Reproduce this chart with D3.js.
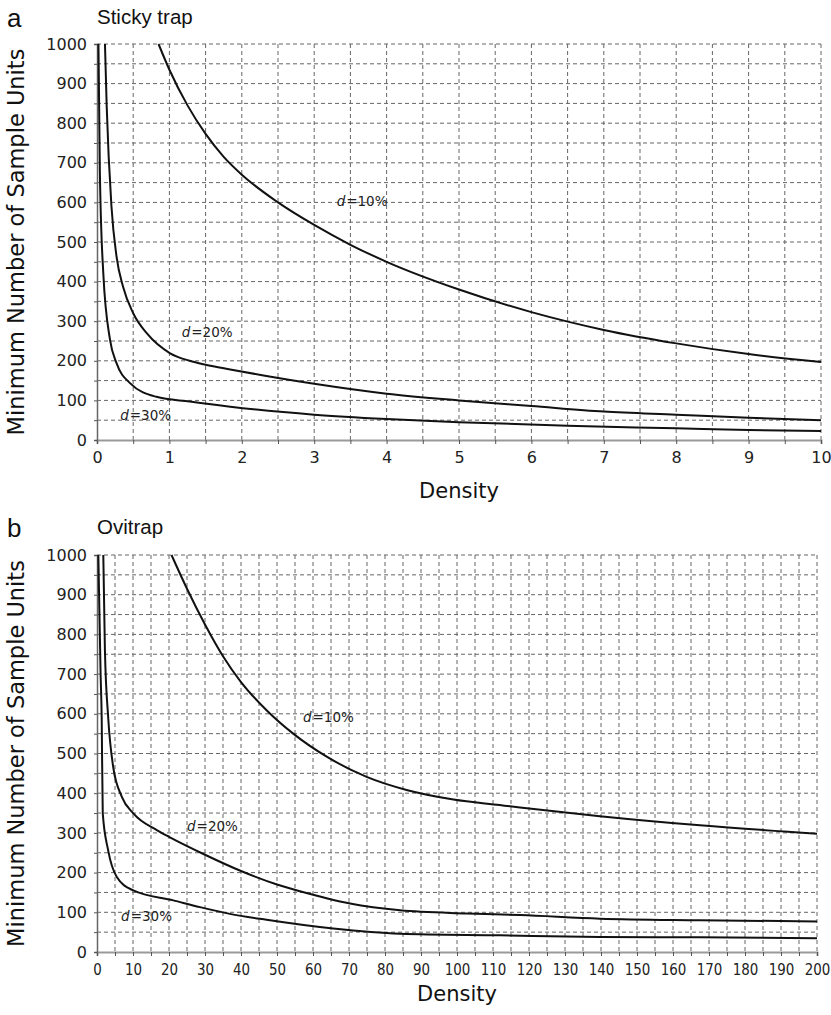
<!DOCTYPE html>
<html>
<head>
<meta charset="utf-8">
<script src="https://cdn.jsdelivr.net/npm/d3@7"></script>
<style>
  body { margin: 0; background: #fff; }
  svg { display: block; }
  .tick text { font-family: "DejaVu Sans", Verdana, sans-serif; fill: #222; }
</style>
</head>
<body>
<svg id="chart" width="831" height="1015"></svg>
<script>
// panel a : sticky trap
const stickyX10 = [0.85, 1.0, 1.25, 1.5, 1.75, 2, 2.5, 3, 3.5, 4, 5, 6, 7, 8, 9, 10];
const stickyY10 = [1000, 935, 845, 773, 715, 670, 600, 543, 493, 450, 380, 323, 278, 244, 217, 197];
const stickyX20 = [0.11, 0.134, 0.2, 0.27, 0.36, 0.5, 0.69, 1.01, 1.28, 1.5, 1.84, 2.3, 3, 4, 5, 6, 7, 8, 9, 10];
const stickyY20 = [1000, 842, 589, 463, 387, 320, 269, 219, 200, 190, 178, 163, 142, 117, 100, 86, 72, 64, 56, 50];
const stickyX30 = [0.02, 0.04, 0.087, 0.18, 0.27, 0.46, 0.82, 1.28, 1.84, 3, 4, 5, 6.5, 8, 9, 10];
const stickyY30 = [1000, 673, 421, 253, 194, 143, 109, 97, 84, 64, 53, 45, 36, 29.5, 25, 23];

// panel b : ovitrap
const oviX10 = [20.7, 25, 30, 35, 40, 47.1, 54.5, 63.8, 74.9, 86, 99, 111.9, 117.5, 139.7, 167.5, 200];
const oviY10 = [1000, 915, 825, 745, 680, 609, 550, 492, 441, 408, 384, 370, 364, 342, 319, 298];
const oviX20 = [1.75, 2.2, 3.1, 4.5, 6.9, 10.1, 16.6, 20, 30, 40, 50, 56.4, 70.3, 84.2, 102.7, 117.5, 139.7, 167.5, 200];
const oviY20 = [1000, 760, 592, 466, 391, 349, 307, 290, 245, 204, 170, 153, 122, 105, 97, 93, 84, 80, 77];
const oviX30 = [0.37, 1.0, 1.3, 1.6, 3.1, 5.5, 10.1, 21.2, 28.6, 36.9, 47.1, 65.6, 84.2, 111.9, 139.7, 167.5, 200];
const oviY30 = [1000, 700, 592, 349, 256, 189, 155, 130, 113, 96, 81, 59, 46, 42, 38, 37, 34.5];

const panelLetters = ["a", "b"];
const panelTitles = ["Sticky trap", "Ovitrap"];
const curveLabels = ["10%", "20%", "30%"];
const yTicks = d3.range(0, 1001, 50);
const xTicksA = d3.range(0, 10.001, 0.5);
const xTicksB = d3.range(0, 201, 5);

const svg = d3.select("#chart");
svg.append("rect").attr("width", 831).attr("height", 1015).attr("fill", "#fff");

function pairs(xs, ys) {
  return xs.map((x, i) => [x, ys[i]]);
}

const panels = [
  {
    id: "a", left: 97, right: 821, top: 44, bottom: 440, xmax: 10,
    xTicks: xTicksA, labelEvery: 1, squeeze: 1,
    series: [pairs(stickyX10, stickyY10), pairs(stickyX20, stickyY20), pairs(stickyX30, stickyY30)],
    labelPos: [[3.31, 591], [1.17, 260], [0.32, 50]],
    letterY: 27, densityY: 498
  },
  {
    id: "b", left: 97, right: 817, top: 555, bottom: 952, xmax: 200,
    xTicks: xTicksB, labelEvery: 10, squeeze: 0.84,
    series: [pairs(oviX10, oviY10), pairs(oviX20, oviY20), pairs(oviX30, oviY30)],
    labelPos: [[57.2, 579], [25, 304], [6.7, 77]],
    letterY: 537, densityY: 1001
  }
];

panels.forEach((p, pi) => {
  const x = d3.scaleLinear().domain([0, p.xmax]).range([p.left, p.right]);
  const y = d3.scaleLinear().domain([0, 1000]).range([p.bottom, p.top]);
  const g = svg.append("g").attr("id", "panel_" + p.id);

  // grid
  g.append("g").selectAll("line").data(yTicks.filter(d => d > 0)).join("line")
    .attr("x1", p.left).attr("x2", p.right)
    .attr("y1", d => y(d)).attr("y2", d => y(d))
    .attr("stroke", "#666").attr("stroke-width", 1).attr("stroke-dasharray", "4,3");
  g.append("g").selectAll("line").data(p.xTicks.filter(d => d > 0)).join("line")
    .attr("x1", d => x(d)).attr("x2", d => x(d))
    .attr("y1", p.top).attr("y2", p.bottom)
    .attr("stroke", "#666").attr("stroke-width", 1).attr("stroke-dasharray", "4,3");

  // axes
  const xAxis = g.append("g").attr("transform", `translate(0,${p.bottom})`)
    .call(d3.axisBottom(x).tickValues(p.xTicks).tickSize(4).tickPadding(8)
      .tickFormat(d => (Math.abs(d % p.labelEvery) < 1e-9 ? d3.format("d")(d) : "")));
  xAxis.select(".domain").attr("stroke", "#999").attr("stroke-width", 2);
  xAxis.selectAll(".tick line").attr("stroke", "#555");
  xAxis.selectAll(".tick text").attr("font-size", 16).attr("transform", `scale(${p.squeeze},1)`);

  const yAxis = g.append("g").attr("transform", `translate(${p.left},0)`)
    .call(d3.axisLeft(y).tickValues(yTicks).tickSize(3).tickPadding(7)
      .tickFormat(d => (d % 100 === 0 ? d : "")));
  yAxis.select(".domain").attr("stroke", "#666").attr("stroke-width", 1.5);
  yAxis.selectAll(".tick line").attr("stroke", "#555");
  yAxis.selectAll(".tick text").attr("font-size", 16);

  // curves
  const clipId = "clip_" + p.id;
  svg.append("clipPath").attr("id", clipId).append("rect")
    .attr("x", p.left).attr("y", p.top - 1).attr("width", p.right - p.left + 1).attr("height", p.bottom - p.top);
  const line = d3.line().x(d => x(d[0])).y(d => y(d[1])).curve(d3.curveMonotoneX);
  g.append("g").attr("clip-path", `url(#${clipId})`)
    .selectAll("path").data(p.series).join("path")
    .attr("d", line).attr("fill", "none").attr("stroke", "#111").attr("stroke-width", 2);

  // curve labels
  p.labelPos.forEach((lp, i) => {
    const t = g.append("text").attr("x", x(lp[0])).attr("y", y(lp[1]))
      .attr("font-family", "'DejaVu Sans', Verdana, sans-serif").attr("font-size", 13.5).attr("fill", "#222");
    t.append("tspan").attr("font-style", "italic").text("d");
    t.append("tspan").attr("dx", 1).text("=" + curveLabels[i]);
  });

  // panel letter and title
  g.append("text").attr("x", 7).attr("y", p.letterY)
    .attr("font-family", "'Liberation Sans', Arial, sans-serif").attr("font-size", 26).attr("fill", "#111")
    .text(panelLetters[pi]);
  g.append("text").attr("x", 97).attr("y", p.letterY - 3)
    .attr("font-family", "'Liberation Sans', Arial, sans-serif").attr("font-size", 20.5).attr("fill", "#111")
    .text(panelTitles[pi]);

  // axis titles
  g.append("text").attr("x", (p.left + p.right) / 2).attr("y", p.densityY)
    .attr("text-anchor", "middle")
    .attr("font-family", "'DejaVu Sans', Verdana, sans-serif").attr("font-size", 21).attr("fill", "#111")
    .text("Density");
  const yc = (p.top + p.bottom) / 2;
  g.append("text").attr("transform", `translate(24,${yc}) rotate(-90)`)
    .attr("text-anchor", "middle")
    .attr("font-family", "'DejaVu Sans', Verdana, sans-serif").attr("font-size", 22.5).attr("fill", "#111")
    .text("Minimum Number of Sample Units");
});
</script>
</body>
</html>
